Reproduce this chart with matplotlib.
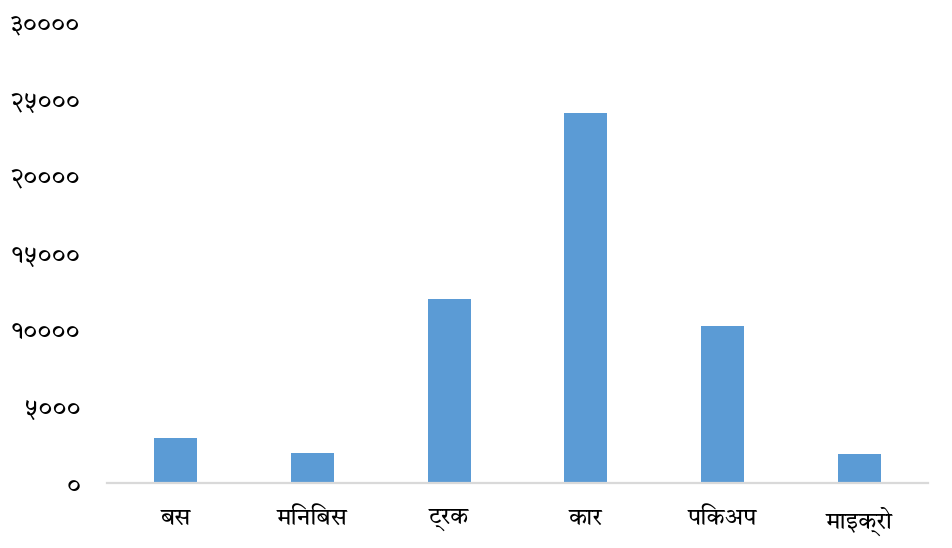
import matplotlib
matplotlib.use("Agg")
import matplotlib.pyplot as plt
import numpy as np

# Vehicle counts by type
categories = ["बस", "मिनिबस", "ट्रक", "कार", "पिकअप", "माइक्रो"]
counts = [2900, 1920, 12000, 24070, 10200, 1860]

y_ticks = [0, 5000, 10000, 15000, 20000, 25000, 30000]
y_tick_labels = ["०", "५०००", "१००००", "१५०००", "२००००", "२५०००", "३००००"]

plt.rcParams['font.family'] = ['Tiro Devanagari Hindi', 'Noto Serif Devanagari',
                               'Noto Sans Devanagari', 'DejaVu Sans']

fig = plt.figure(figsize=(9.53, 5.48), dpi=100)
ax = fig.add_axes([107 / 953, 1 - 483 / 548, (928 - 107) / 953, (483 - 22) / 548])

x = np.arange(len(categories))
ax.bar(x, counts, width=0.315, color='#5B9BD5')

ax.set_xlim(-0.5, len(categories) - 0.5)
ax.set_ylim(0, 30000)
ax.set_xticks(x)
ax.set_xticklabels(categories, fontsize=17)
ax.set_yticks(y_ticks)
ax.set_yticklabels(y_tick_labels, fontsize=19)

for side in ['top', 'right', 'left']:
    ax.spines[side].set_visible(False)
ax.spines['bottom'].set_color('#d9d9d9')
ax.spines['bottom'].set_linewidth(1.6)
ax.tick_params(axis='both', length=0)
ax.tick_params(axis='y', pad=19)
ax.tick_params(axis='x', pad=17)

fig.savefig("out.png", dpi=100)
